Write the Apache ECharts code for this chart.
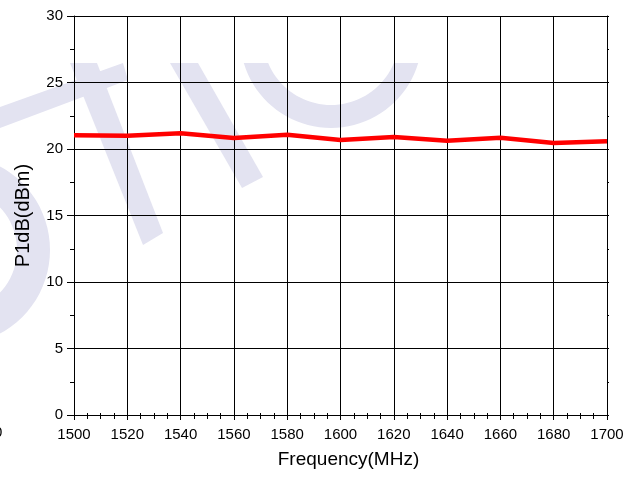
<!DOCTYPE html>
<html>
<head>
<meta charset="utf-8">
<script src="https://cdn.jsdelivr.net/npm/echarts@6/dist/echarts.min.js"></script>
<style>
  html, body { margin: 0; padding: 0; background: #fff; }
  #chart { width: 634px; height: 477px; }
</style>
</head>
<body>
<div id="chart"></div>
<script>
// Measured P1dB over the band
const frequencies = [1500, 1520, 1540, 1560, 1580, 1600, 1620, 1640, 1660, 1680, 1700];
const p1dbValues = [21.03, 21.0, 21.18, 20.83, 21.07, 20.68, 20.9, 20.62, 20.85, 20.45, 20.58];

// Axis ranges
const freqRange = { min: 1500, max: 1700, step: 20 };
const powerRange = { min: 0, max: 30, step: 5 };

const FONT = '"Liberation Sans", Arial, sans-serif';
const WM = '#e3e3f1';

// Background logo strokes (decorative)
function ringPath(cx, cy, ro, ri, clipY) {
  const pts = [];
  const n = 40;
  const a0 = clipY == null ? -Math.PI / 2 : Math.asin((clipY - cy) / ro);
  const a1 = clipY == null ? Math.PI / 2 : Math.PI - a0;
  const b0 = clipY == null ? -Math.PI / 2 : Math.asin((clipY - cy) / ri);
  const b1 = clipY == null ? Math.PI / 2 : Math.PI - b0;
  for (let i = 0; i <= n; i++) {
    const a = a0 + (a1 - a0) * i / n;
    pts.push([cx + ro * Math.cos(a), cy + ro * Math.sin(a)]);
  }
  for (let i = n; i >= 0; i--) {
    const a = b0 + (b1 - b0) * i / n;
    pts.push([cx + ri * Math.cos(a), cy + ri * Math.sin(a)]);
  }
  return pts;
}

const logo = [
  { type: 'polygon', z: -10, shape: { points: ringPath(-45, 250, 95, 62, null) }, style: { fill: WM } },
  { type: 'polygon', z: -10, shape: { points: [[0, 107], [123, 63], [128, 80], [0, 128]] }, style: { fill: WM } },
  { type: 'polygon', z: -10, shape: { points: [[70, 63], [97, 63], [163, 233], [143, 245]] }, style: { fill: WM } },
  { type: 'polygon', z: -10, shape: { points: [[170, 63], [198, 63], [263, 177], [242, 188]] }, style: { fill: WM } },
  { type: 'polygon', z: -10, shape: { points: ringPath(331, 37, 91, 68, 63) }, style: { fill: WM } },
  { type: 'text', z: 5, left: -6, top: 425, style: { text: '0', font: '15px ' + FONT, fill: '#000' } }
];

const chart = echarts.init(document.getElementById('chart'), null, { renderer: 'canvas' });

const lineStyle = { color: '#000', width: 1 };
const plain = v => String(v);

chart.setOption({
  animation: false,
  backgroundColor: '#fff',
  graphic: logo,
  grid: { left: 74, right: 27, top: 16, bottom: 62, containLabel: false },
  xAxis: [
    {
      type: 'value',
      min: freqRange.min, max: freqRange.max, interval: freqRange.step,
      name: 'Frequency(MHz)', nameLocation: 'middle', nameGap: 35,
      nameTextStyle: { fontFamily: FONT, fontSize: 19, color: '#000', padding: [0, 0, 0, 16] },
      axisLine: { show: true, onZero: false, lineStyle },
      axisTick: { show: true, inside: false, length: 5, lineStyle },
      minorTick: { show: true, splitNumber: 4, length: 4, lineStyle },
      splitLine: { show: true, lineStyle },
      axisLabel: { margin: 12, fontFamily: FONT, fontSize: 15, color: '#000', formatter: plain }
    },
    {
      type: 'value', position: 'top',
      min: freqRange.min, max: freqRange.max, interval: freqRange.step,
      axisLine: { show: true, lineStyle },
      axisTick: { show: true, inside: false, length: 2, lineStyle },
      minorTick: { show: true, splitNumber: 4, length: 2, lineStyle },
      splitLine: { show: false },
      axisLabel: { show: false }
    }
  ],
  yAxis: [
    {
      type: 'value',
      min: powerRange.min, max: powerRange.max, interval: powerRange.step,
      name: 'P1dB(dBm)', nameLocation: 'middle', nameGap: 41,
      nameTextStyle: { fontFamily: FONT, fontSize: 20, color: '#000', padding: [0, 0, 0, 0] },
      axisLine: { show: true, onZero: false, lineStyle },
      axisTick: { show: true, inside: false, length: 7, lineStyle },
      minorTick: { show: true, splitNumber: 2, length: 4, lineStyle },
      splitLine: { show: true, lineStyle },
      axisLabel: { margin: 11, fontFamily: FONT, fontSize: 15, color: '#000', formatter: plain }
    },
    {
      type: 'value', position: 'right',
      min: powerRange.min, max: powerRange.max, interval: powerRange.step,
      axisLine: { show: true, lineStyle },
      axisTick: { show: true, inside: false, length: 2, lineStyle },
      minorTick: { show: true, splitNumber: 2, length: 2, lineStyle },
      splitLine: { show: false },
      axisLabel: { show: false }
    }
  ],
  series: [
    {
      type: 'line',
      data: frequencies.map((f, i) => [f, p1dbValues[i]]),
      showSymbol: false,
      lineStyle: { color: '#ff0000', width: 4.5 },
      z: 10
    }
  ]
});
</script>
</body>
</html>
